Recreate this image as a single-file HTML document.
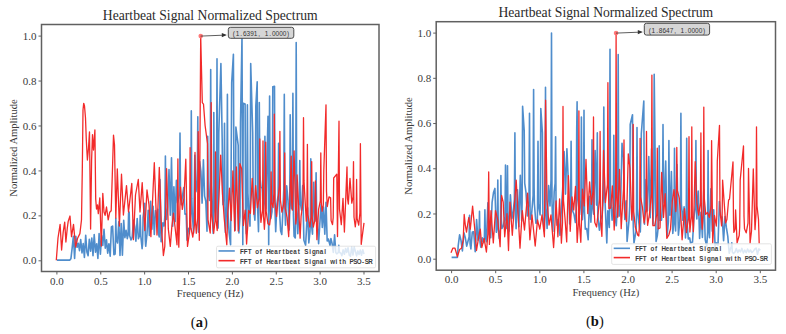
<!DOCTYPE html>
<html><head><meta charset="utf-8"><style>
html,body{margin:0;padding:0;background:#fff;}
svg{display:block;}
.tk{font-family:"Liberation Serif", serif;font-size:11px;fill:#3a3a3a;}
.ti{font-family:"Liberation Serif", serif;font-size:13.65px;fill:#2a2a2a;}
.lb{font-family:"Liberation Serif", serif;font-size:10.6px;fill:#3a3a3a;}
.cp{font-family:"Liberation Serif", serif;font-size:14.5px;fill:#111;}
.lg{font-family:"Liberation Sans", sans-serif;font-size:7.8px;font-weight:bold;fill:#3a3a3a;}
.an{font-family:"Liberation Sans", sans-serif;font-size:7.6px;fill:#333;}
</style></head>
<body><svg width="786" height="334" viewBox="0 0 786 334">
<clipPath id="clipa"><rect x="41.5" y="24.5" width="337.5" height="247.0"/></clipPath>
<g clip-path="url(#clipa)"><polyline points="56.9,260.1 69.7,260.1 70.9,258.8 72.2,247.7 73.4,236.2 74.6,258.5 75.8,236.2 77.1,247.3 78.3,243.2 79.5,250.7 80.7,239.6 82.0,252.9 83.2,243.5 84.4,257.4 85.7,235.2 86.9,251.9 88.1,255.7 89.3,239.2 90.6,251.2 91.8,238.1 93.0,255.6 94.2,234.5 95.5,252.1 96.7,243.8 97.9,258.4 99.1,233.5 100.4,254.3 101.6,235.5 102.8,245.5 104.0,229.3 105.3,248.2 106.5,239.9 107.7,253.2 108.9,243.7 110.2,256.1 111.4,227.0 112.6,226.1 113.9,254.7 115.1,254.0 115.3,248.6 115.8,218.3 116.3,239.3 117.5,243.0 118.8,221.8 120.0,255.4 121.2,223.6 122.4,255.2 123.7,220.3 124.9,237.7 126.1,230.4 127.3,238.7 128.1,234.9 128.6,213.0 129.2,212.2 129.7,235.8 131.0,239.9 132.2,237.4 133.5,220.2 134.7,226.4 135.9,241.1 137.2,218.6 138.4,238.6 139.7,235.1 140.2,215.3 140.7,232.9 140.8,236.0 142.1,248.6 142.6,243.9 143.1,217.3 144.8,203.3 145.3,239.8 145.7,246.3 147.0,234.0 148.2,210.3 149.4,235.5 150.6,201.3 151.9,229.2 153.1,206.3 154.3,234.4 155.5,210.6 156.8,217.7 157.8,209.2 158.3,232.8 159.2,236.9 159.5,228.3 160.0,179.5 161.1,241.8 162.9,222.7 164.1,226.0 164.9,215.5 165.4,156.0 165.9,210.0 166.6,219.5 167.8,207.0 169.0,169.6 170.3,215.2 171.5,157.7 172.7,226.3 173.9,186.7 175.2,221.6 176.4,180.4 177.6,202.9 178.8,198.1 179.5,188.3 180.0,133.0 180.5,194.1 181.3,204.8 182.5,195.9 183.7,187.5 185.0,214.2 186.2,214.0 187.0,240.3 188.6,228.4 189.9,229.2 190.8,211.4 191.3,110.9 191.8,198.4 192.3,213.9 193.6,232.9 194.8,155.2 196.0,191.7 197.3,180.5 197.8,116.7 198.3,215.0 198.5,232.3 199.7,161.5 200.9,171.4 202.1,203.1 203.4,159.8 204.6,196.1 205.8,201.2 207.0,231.3 207.2,217.0 207.7,136.2 208.2,190.8 209.5,200.4 210.2,180.8 210.7,69.6 211.2,185.4 211.9,205.9 213.2,233.5 213.3,215.4 213.8,112.5 214.3,203.3 215.6,219.3 216.5,195.3 217.0,58.8 217.5,202.7 218.1,228.1 218.3,213.8 218.8,133.1 220.9,63.5 222.2,140.7 222.7,195.2 223.0,204.8 224.0,192.6 224.5,123.2 225.0,216.0 225.4,232.4 226.7,206.4 226.9,189.6 227.4,94.4 227.9,211.9 229.1,232.7 230.6,244.8 231.7,82.6 233.4,54.2 233.9,175.2 234.0,196.5 235.2,230.3 235.4,214.8 235.9,127.0 238.2,145.4 238.7,219.7 238.9,232.9 240.0,216.3 240.5,122.4 242.0,36.1 242.8,244.8 243.2,103.3 245.1,104.1 245.6,214.2 246.3,233.6 246.9,214.3 247.4,104.9 247.9,193.1 248.7,208.7 250.0,226.1 250.2,201.7 250.7,63.5 252.7,133.1 253.2,197.1 253.6,208.4 254.9,220.2 255.3,203.1 255.8,106.4 257.2,81.9 257.7,209.2 258.5,231.6 258.8,212.3 259.3,102.6 259.8,174.8 261.0,187.5 262.2,188.0 263.4,211.5 264.4,200.2 264.9,136.2 265.4,197.6 265.9,208.5 268.0,116.3 268.7,244.8 269.6,96.0 270.1,200.2 270.8,218.6 272.0,211.7 272.3,192.9 272.8,86.7 274.5,86.2 275.0,209.9 275.7,231.7 276.9,204.5 278.1,195.3 278.6,143.3 279.1,198.8 279.4,208.6 280.6,230.8 281.8,234.4 283.1,205.9 283.8,189.2 284.3,94.4 284.8,205.6 285.5,225.2 286.7,185.8 288.0,200.4 289.2,230.0 289.7,212.8 290.2,114.8 290.7,194.5 291.6,208.6 292.4,191.3 292.9,93.4 293.4,214.9 294.1,236.3 295.3,237.9 295.7,208.5 296.2,42.5 296.7,205.1 297.8,233.8 299.0,205.3 299.3,198.6 299.8,160.6 300.3,202.6 301.5,210.1 302.7,185.6 303.9,240.3 305.6,245.3 306.4,230.4 307.6,207.7 308.8,242.9 310.0,231.3 310.3,220.5 310.8,158.9 311.3,222.8 312.5,234.1 313.7,182.3 314.9,221.1 315.6,213.8 316.1,172.7 316.6,213.8 317.4,221.1 318.6,243.8 319.8,223.9 321.1,204.1 322.3,227.4 323.5,207.1 324.8,234.1 326.0,202.2 327.2,241.0 328.4,239.0 330.0,245.3 330.9,238.5 332.1,243.5 333.3,252.5 334.6,234.9 335.8,252.7 337.0,253.8 338.3,252.5 338.8,245.4 339.3,251.5 339.5,252.6 340.7,253.0 341.9,255.7 343.1,249.9 344.4,254.3 345.6,248.5 346.8,252.4 348.0,247.7 349.3,255.4 350.5,256.2 351.7,247.1 353.0,255.0 354.2,247.1 355.4,251.2 356.6,255.9 357.9,250.9 359.1,254.4 360.3,250.0 361.5,255.3 362.8,249.8 364.0,254.1" fill="none" stroke="#4f8dcc" stroke-width="1.6" stroke-linejoin="round"/><polyline points="56.3,260.2 58.0,238.0 60.1,224.4 61.6,250.0 63.2,232.0 64.7,222.1 65.9,242.0 67.3,228.0 68.2,221.4 70.0,216.0 71.5,236.6 73.5,224.4 75.6,247.0 77.6,238.2 79.9,233.6 81.5,219.8 82.3,170.0 83.0,110.0 83.7,103.3 84.5,106.0 85.5,118.0 86.3,140.0 87.4,160.0 88.5,148.0 89.5,131.9 90.6,229.0 91.6,160.0 92.5,134.6 93.5,150.0 94.9,130.0 95.7,199.0 96.5,209.0 97.5,205.0 98.3,213.7 99.8,197.9 101.3,246.0 102.8,193.3 104.0,212.0 105.1,215.3 106.5,207.0 108.2,219.8 109.7,212.2 111.2,210.7 112.3,175.0 113.5,135.1 114.5,145.0 115.8,218.0 117.3,168.8 119.4,226.0 121.5,174.2 123.4,215.0 126.5,185.6 128.5,212.0 131.8,183.4 133.4,239.7 135.5,195.0 138.3,179.5 140.0,212.0 142.2,182.6 144.8,230.5 147.0,190.0 149.0,205.0 150.9,236.6 154.3,162.7 157.0,235.0 159.3,167.3 161.3,224.8 163.4,255.5 164.8,246.4 166.6,168.7 168.3,228.9 170.3,246.4 171.8,226.9 173.5,213.2 177.0,244.8 177.9,158.9 178.4,234.0 178.8,247.2 180.5,187.1 182.3,209.4 184.0,197.5 185.8,159.2 187.5,246.4 189.6,231.6 190.1,147.6 190.6,216.1 191.0,228.2 192.8,237.2 194.5,224.4 195.0,152.4 195.5,221.1 196.3,233.3 197.7,218.0 198.2,131.6 199.3,240.3 200.7,36.1 202.3,102.6 203.5,104.1 205.1,125.5 207.5,143.7 208.0,219.6 210.2,233.0 210.7,213.4 211.2,102.6 211.7,213.6 213.7,233.2 215.0,221.0 215.5,151.9 216.0,218.7 217.2,230.5 219.0,195.6 220.7,155.1 222.5,193.8 224.2,218.5 226.8,244.8 227.7,214.6 229.5,188.2 231.2,220.6 232.9,170.9 234.7,231.0 236.4,167.0 238.2,231.1 239.9,163.6 241.7,169.0 243.4,225.5 245.2,210.2 246.6,244.0 248.7,210.5 250.4,213.4 252.2,178.3 253.9,214.3 255.7,185.6 257.4,207.8 259.3,197.5 259.8,139.0 260.3,209.8 260.9,222.3 262.5,210.1 263.0,141.0 263.5,216.0 264.4,229.3 265.2,216.2 265.7,142.2 266.2,211.4 267.9,223.7 269.6,224.9 270.6,217.0 271.1,171.9 271.6,202.2 273.1,207.5 273.8,193.5 274.3,114.1 274.8,201.1 276.6,216.5 278.4,195.5 279.4,185.9 279.9,131.4 280.4,200.1 281.9,212.2 283.6,204.5 284.2,196.8 284.7,153.0 285.2,207.8 287.1,217.4 288.7,236.6 291.2,156.2 291.7,202.1 292.4,210.1 294.1,151.0 295.8,224.0 296.6,216.7 297.1,175.0 300.1,238.2 301.1,216.3 303.0,201.5 303.5,117.7 304.0,180.9 304.6,192.0 306.3,221.2 306.9,209.7 307.4,144.3 307.9,214.6 309.8,227.0 311.2,217.2 311.7,161.6 312.2,217.2 313.3,227.0 314.9,220.1 315.4,181.0 316.9,239.7 318.6,209.3 320.3,200.8 320.8,153.0 321.3,202.5 322.1,211.3 323.3,205.2 323.8,170.4 326.0,104.8 326.5,191.3 327.3,206.5 329.0,196.9 330.6,197.9 331.1,220.6 332.5,224.6 333.2,217.6 333.7,178.0 336.8,174.2 337.5,236.6 339.0,121.2 339.5,209.1 341.3,224.6 343.0,198.3 344.4,232.0 347.0,167.0 347.5,198.4 348.3,204.0 350.0,178.3 351.8,203.1 353.0,196.8 353.5,161.6 354.0,217.0 355.3,226.8 356.1,219.7 356.6,179.5 357.1,218.4 358.7,225.2 359.9,213.0 360.4,143.7 361.2,244.3 364.0,222.8" fill="none" stroke="#f22a2a" stroke-width="1.3" stroke-linejoin="round"/></g>
<rect x="41.5" y="24.5" width="337.5" height="247.0" fill="none" stroke="#606060" stroke-width="1.5"/>
<line x1="56.90" y1="271.5" x2="56.90" y2="274.5" stroke="#606060" stroke-width="1"/>
<text x="56.90" y="284.7" text-anchor="middle" class="tk">0.0</text>
<line x1="100.77" y1="271.5" x2="100.77" y2="274.5" stroke="#606060" stroke-width="1"/>
<text x="100.77" y="284.7" text-anchor="middle" class="tk">0.5</text>
<line x1="144.64" y1="271.5" x2="144.64" y2="274.5" stroke="#606060" stroke-width="1"/>
<text x="144.64" y="284.7" text-anchor="middle" class="tk">1.0</text>
<line x1="188.51" y1="271.5" x2="188.51" y2="274.5" stroke="#606060" stroke-width="1"/>
<text x="188.51" y="284.7" text-anchor="middle" class="tk">1.5</text>
<line x1="232.38" y1="271.5" x2="232.38" y2="274.5" stroke="#606060" stroke-width="1"/>
<text x="232.38" y="284.7" text-anchor="middle" class="tk">2.0</text>
<line x1="276.25" y1="271.5" x2="276.25" y2="274.5" stroke="#606060" stroke-width="1"/>
<text x="276.25" y="284.7" text-anchor="middle" class="tk">2.5</text>
<line x1="320.12" y1="271.5" x2="320.12" y2="274.5" stroke="#606060" stroke-width="1"/>
<text x="320.12" y="284.7" text-anchor="middle" class="tk">3.0</text>
<line x1="363.99" y1="271.5" x2="363.99" y2="274.5" stroke="#606060" stroke-width="1"/>
<text x="363.99" y="284.7" text-anchor="middle" class="tk">3.5</text>
<line x1="38.5" y1="260.80" x2="41.5" y2="260.80" stroke="#606060" stroke-width="1"/>
<text x="36.5" y="264.40" text-anchor="end" class="tk">0.0</text>
<line x1="38.5" y1="215.86" x2="41.5" y2="215.86" stroke="#606060" stroke-width="1"/>
<text x="36.5" y="219.46" text-anchor="end" class="tk">0.2</text>
<line x1="38.5" y1="170.92" x2="41.5" y2="170.92" stroke="#606060" stroke-width="1"/>
<text x="36.5" y="174.52" text-anchor="end" class="tk">0.4</text>
<line x1="38.5" y1="125.98" x2="41.5" y2="125.98" stroke="#606060" stroke-width="1"/>
<text x="36.5" y="129.58" text-anchor="end" class="tk">0.6</text>
<line x1="38.5" y1="81.04" x2="41.5" y2="81.04" stroke="#606060" stroke-width="1"/>
<text x="36.5" y="84.64" text-anchor="end" class="tk">0.8</text>
<line x1="38.5" y1="36.10" x2="41.5" y2="36.10" stroke="#606060" stroke-width="1"/>
<text x="36.5" y="39.70" text-anchor="end" class="tk">1.0</text>
<text x="210.25" y="19.8" text-anchor="middle" class="ti">Heartbeat Signal Normalized Spectrum</text>
<text x="210.25" y="296.7" text-anchor="middle" class="lb">Frequency (Hz)</text>
<text transform="translate(17.30,148.00) rotate(-90)" text-anchor="middle" class="lb">Normalized Amplitude</text>
<text transform="translate(199.25,326.5)" text-anchor="middle" class="cp">(<tspan font-weight="bold">a</tspan>)</text>
<rect x="216.5" y="246.2" width="159.10000000000002" height="21.600000000000023" rx="1.5" fill="rgba(255,255,255,0.8)" stroke="#dddddd" stroke-width="0.8"/>
<line x1="218.5" y1="250.95" x2="234.8" y2="250.95" stroke="#4f8dcc" stroke-width="1.6"/>
<line x1="218.5" y1="260.67" x2="234.8" y2="260.67" stroke="#f22a2a" stroke-width="1.6"/>
<text transform="scale(0.8,1)" x="302.49 307.21 311.94 321.39 326.11 335.56 340.29 345.01 349.74 354.46 359.19 363.91 368.64 373.36 382.81 387.54 392.26 396.99 401.71 406.44" y="253.95" text-anchor="middle" class="lg">FFTofHeartbeatSignal</text>
<text transform="scale(0.8,1)" x="302.49 307.21 311.94 321.39 326.11 335.56 340.29 345.01 349.74 354.46 359.19 363.91 368.64 373.36 382.81 387.54 392.26 396.99 401.71 406.44 415.89 420.61 425.34 430.06 439.51 444.24 448.96 453.69 458.41 463.14" y="263.67" text-anchor="middle" class="lg">FFTofHeartbeatSignalwithPSO-SR</text>
<circle cx="200.71" cy="36.10" r="2.3" fill="#ff6a6a" opacity="0.9"/>
<line x1="200.71" y1="36.10" x2="225.30" y2="35.10" stroke="#333" stroke-width="0.8"/>
<path d="M226.80,35.10 L221.80,32.90 L221.80,37.30 Z" fill="#333"/>
<rect x="228.3" y="27.3" width="65.50" height="11.00" rx="2.2" fill="#d6d6d6" stroke="#4a4a4a" stroke-width="1"/>
<text transform="scale(0.85,1)" x="275.18 279.44 283.69 287.95 292.21 296.47 300.73 304.99 313.51 317.76 322.02 326.28 330.54 334.80 339.06" y="35.90" text-anchor="middle" class="an">(1.6391,1.0000)</text>
<clipPath id="clipb"><rect x="436.2" y="21.7" width="339.3" height="248.5"/></clipPath>
<g clip-path="url(#clipb)"><polyline points="451.6,257.4 457.4,257.4 458.2,245.8 459.6,234.8 461.0,240.4 462.4,250.9 463.9,232.7 465.3,237.6 466.7,246.1 468.1,240.7 469.1,236.9 469.6,215.2 470.1,243.9 470.9,249.0 472.3,232.0 473.7,231.7 475.2,251.7 476.6,219.6 478.0,240.1 479.0,235.8 479.5,211.4 480.0,241.8 480.8,247.1 482.2,237.8 483.6,242.6 484.4,237.7 484.9,209.9 485.4,237.0 486.4,241.8 487.9,202.7 489.3,234.4 490.7,237.7 492.1,202.3 493.5,192.6 494.9,188.4 496.3,232.3 497.3,224.4 497.8,180.1 498.3,229.7 499.2,238.4 500.4,229.0 500.9,175.5 501.4,220.6 502.0,228.5 503.4,225.8 505.0,216.7 505.5,165.0 506.0,218.9 506.2,228.4 507.0,219.0 507.5,165.7 508.0,221.4 509.0,231.3 510.4,194.9 511.9,218.6 513.3,211.1 514.4,199.4 514.9,132.9 515.4,214.2 516.1,228.6 517.5,189.7 518.9,226.8 520.3,175.3 521.7,221.1 522.1,203.9 522.6,106.4 524.2,130.6 524.7,183.2 526.0,192.5 527.4,215.9 529.0,200.5 529.5,113.2 530.0,203.5 530.2,219.4 531.6,214.3 533.1,195.6 533.6,89.6 534.1,186.7 534.4,203.8 535.9,223.3 537.3,222.6 537.5,210.4 538.0,141.3 538.5,203.9 540.1,214.9 540.3,199.0 540.8,108.6 542.4,132.9 542.9,216.5 544.3,231.2 545.0,209.7 545.5,87.3 546.0,207.3 547.1,228.4 548.6,185.6 550.0,206.0 551.0,180.1 551.5,33.1 552.0,201.7 552.8,231.5 554.2,191.6 555.1,183.4 555.6,136.7 556.1,211.8 557.0,225.1 558.4,219.3 560.0,235.3 561.3,209.9 562.7,188.7 564.1,151.6 565.5,194.1 566.9,148.7 568.3,180.6 569.7,223.9 570.6,211.5 571.1,141.3 571.6,200.3 572.6,210.7 574.0,214.3 575.4,222.5 576.2,208.7 576.7,130.6 577.1,101.8 577.6,197.7 579.6,214.6 580.9,200.0 581.4,117.0 581.9,204.3 582.4,219.7 583.5,203.3 584.0,110.2 584.5,211.2 585.3,229.1 586.7,228.5 588.2,239.8 589.5,196.3 590.9,222.3 591.5,209.9 592.0,139.8 592.5,203.0 593.7,214.1 595.1,150.5 596.6,205.1 596.8,194.3 597.3,132.9 597.8,215.6 599.4,230.2 600.8,219.9 602.2,214.6 603.3,198.5 603.8,107.1 604.3,186.5 605.0,200.5 606.8,242.9 607.8,210.7 609.3,227.4 609.5,200.6 610.0,49.2 610.5,194.5 612.1,220.2 613.3,207.4 613.8,135.2 614.3,202.8 614.9,214.8 616.3,225.8 617.7,200.2 618.2,54.6 618.7,192.0 619.1,216.2 620.6,205.2 622.0,143.2 623.4,157.3 624.8,219.4 626.2,200.7 627.1,241.4 629.0,220.6 629.7,206.2 630.2,124.5 632.5,114.7 633.0,210.1 633.3,226.9 634.0,242.9 636.1,230.6 636.5,215.1 637.0,127.6 637.5,208.7 638.9,223.0 640.3,231.9 640.8,217.1 641.3,133.7 643.8,101.0 644.3,205.8 644.5,224.3 646.0,179.6 647.4,211.0 648.8,156.6 650.2,217.7 651.6,148.7 653.0,224.3 653.7,201.8 654.2,74.3 656.1,241.4 657.3,235.8 658.7,222.3 659.2,145.9 659.7,209.2 660.1,220.3 661.5,220.2 662.5,205.8 663.0,124.5 663.5,191.2 664.3,202.9 665.7,161.0 667.1,235.9 668.4,221.6 668.9,140.6 669.4,204.1 670.0,215.3 671.4,171.6 672.8,233.5 674.0,220.7 674.5,148.2 675.0,218.6 675.6,231.0 677.0,164.5 678.4,235.2 679.8,221.5 680.4,205.2 680.9,113.2 681.4,204.1 682.7,220.2 684.1,206.7 685.5,237.9 686.2,222.9 686.7,138.3 687.2,223.9 688.3,239.0 689.7,237.9 690.5,242.9 692.5,242.1 694.0,216.9 695.4,205.4 695.9,140.6 696.4,207.2 696.8,219.0 698.2,191.1 699.6,238.5 701.0,212.2 702.4,237.5 703.8,189.8 705.2,239.7 706.7,246.4 707.6,232.0 708.1,150.5 708.6,224.7 709.5,237.8 710.9,188.7 712.3,231.3 713.7,209.8 715.1,246.1 716.5,242.9 718.0,245.2 719.4,201.5 720.8,217.4 722.2,217.0 723.6,240.6 725.0,216.6 726.4,227.7 727.8,236.4 729.2,253.2 730.7,247.9 731.3,247.1 731.8,242.9 732.3,251.9 733.5,253.5 734.9,252.2 736.3,248.5 737.7,252.5 739.1,249.9 740.5,251.9 741.9,248.4 743.4,253.0 744.8,250.2 746.2,252.7 747.6,249.1 749.0,252.1 750.4,250.0 751.8,252.5 753.2,251.4 754.7,249.2 756.1,248.0 757.5,254.2 758.9,248.9 760.3,250.4" fill="none" stroke="#4f8dcc" stroke-width="1.6" stroke-linejoin="round"/><polyline points="451.0,252.8 452.8,248.2 455.0,248.2 457.4,256.6 459.6,249.5 461.5,248.2 463.2,240.0 464.2,214.5 465.3,225.0 466.5,232.2 468.1,221.5 468.8,217.5 470.3,229.2 472.6,206.1 474.9,230.7 476.5,250.5 478.7,236.8 480.3,229.2 481.8,247.5 484.1,238.3 486.4,252.0 487.9,233.7 488.7,171.9 489.4,244.4 491.0,210.6 493.3,242.9 495.5,210.6 497.8,219.8 500.1,246.7 501.6,195.4 503.2,202.2 504.7,236.8 507.0,213.7 508.5,250.5 510.0,202.2 512.3,235.3 516.2,180.1 520.0,248.2 522.3,210.6 524.5,230.0 527.6,193.1 529.9,239.8 532.0,215.0 535.2,246.0 537.5,220.0 539.8,229.2 542.0,215.0 544.4,236.8 545.6,100.2 547.0,200.0 549.0,225.0 551.0,215.0 553.6,247.5 554.4,234.3 556.1,200.9 557.9,236.8 559.6,198.8 561.4,243.1 562.5,222.6 563.0,106.4 563.5,200.4 564.9,217.0 566.7,241.9 568.4,175.6 570.2,231.3 572.0,196.8 573.7,210.0 575.5,186.4 577.2,242.4 578.4,222.7 578.9,110.9 579.4,222.5 580.8,242.3 582.5,189.1 584.3,205.9 586.0,159.4 587.8,213.6 589.6,181.8 591.3,204.3 593.0,191.2 593.5,117.0 594.0,206.7 594.8,222.5 596.6,227.0 598.4,210.7 599.6,198.8 600.1,131.4 600.6,220.6 601.9,236.4 603.6,150.4 605.4,202.6 607.4,184.6 607.9,82.7 608.4,189.6 608.9,208.4 610.7,208.0 612.4,185.9 614.2,230.0 615.6,200.5 616.1,33.1 616.6,189.7 617.7,217.3 619.5,169.5 621.2,228.7 623.0,197.7 623.5,189.0 624.0,139.8 624.5,209.1 626.5,221.3 628.3,153.8 630.0,168.3 631.8,220.1 632.7,205.8 633.2,124.5 633.7,211.6 635.3,227.0 637.8,235.3 638.8,236.0 639.6,221.3 640.1,138.3 640.6,196.8 642.4,207.1 644.1,223.0 646.0,209.2 646.5,131.4 647.0,211.2 647.6,225.3 649.4,214.5 651.4,193.6 651.9,75.1 652.4,203.1 652.9,225.7 654.7,225.6 656.8,214.0 657.3,148.2 657.8,216.8 658.2,228.9 660.0,228.0 661.7,172.5 663.5,217.4 665.2,193.7 666.8,238.3 668.8,235.0 670.5,229.0 672.3,201.4 674.0,189.6 675.8,211.5 676.3,201.9 676.8,147.4 677.3,190.5 679.3,198.1 681.1,221.1 682.1,239.8 684.6,208.7 686.4,232.5 688.5,218.1 689.0,136.7 689.5,217.7 689.9,232.0 691.3,216.2 691.8,126.8 692.3,215.9 693.4,231.6 695.2,161.6 696.9,203.0 698.7,215.1 700.4,202.8 700.9,132.9 701.4,214.9 702.2,229.3 703.3,211.0 703.8,107.1 704.3,198.3 705.7,214.4 707.5,212.4 709.3,217.3 711.1,205.8 711.6,140.6 712.7,242.9 714.5,215.5 716.3,226.0 716.8,216.3 717.3,161.2 719.5,125.3 720.0,210.8 721.6,225.9 722.1,219.1 722.6,180.1 725.6,222.9 726.9,219.5 728.6,200.0 729.5,199.2 733.0,161.9 733.5,221.8 733.9,232.4 735.1,229.0 735.6,209.9 737.1,242.9 739.2,235.5 739.7,227.2 740.2,180.1 743.5,145.9 744.0,216.3 744.5,228.7 746.2,232.8 748.0,223.2 748.5,168.5 750.1,242.9 751.5,231.0 753.3,169.0 755.0,229.6 756.0,214.2 756.5,126.8 757.0,205.7 758.5,219.6 759.2,243.6" fill="none" stroke="#f22a2a" stroke-width="1.3" stroke-linejoin="round"/></g>
<rect x="436.2" y="21.7" width="339.3" height="248.5" fill="none" stroke="#606060" stroke-width="1.5"/>
<line x1="451.60" y1="270.2" x2="451.60" y2="273.2" stroke="#606060" stroke-width="1"/>
<text x="451.60" y="283.4" text-anchor="middle" class="tk">0.0</text>
<line x1="495.70" y1="270.2" x2="495.70" y2="273.2" stroke="#606060" stroke-width="1"/>
<text x="495.70" y="283.4" text-anchor="middle" class="tk">0.5</text>
<line x1="539.80" y1="270.2" x2="539.80" y2="273.2" stroke="#606060" stroke-width="1"/>
<text x="539.80" y="283.4" text-anchor="middle" class="tk">1.0</text>
<line x1="583.90" y1="270.2" x2="583.90" y2="273.2" stroke="#606060" stroke-width="1"/>
<text x="583.90" y="283.4" text-anchor="middle" class="tk">1.5</text>
<line x1="628.00" y1="270.2" x2="628.00" y2="273.2" stroke="#606060" stroke-width="1"/>
<text x="628.00" y="283.4" text-anchor="middle" class="tk">2.0</text>
<line x1="672.10" y1="270.2" x2="672.10" y2="273.2" stroke="#606060" stroke-width="1"/>
<text x="672.10" y="283.4" text-anchor="middle" class="tk">2.5</text>
<line x1="716.20" y1="270.2" x2="716.20" y2="273.2" stroke="#606060" stroke-width="1"/>
<text x="716.20" y="283.4" text-anchor="middle" class="tk">3.0</text>
<line x1="760.30" y1="270.2" x2="760.30" y2="273.2" stroke="#606060" stroke-width="1"/>
<text x="760.30" y="283.4" text-anchor="middle" class="tk">3.5</text>
<line x1="433.2" y1="259.20" x2="436.2" y2="259.20" stroke="#606060" stroke-width="1"/>
<text x="431.2" y="262.80" text-anchor="end" class="tk">0.0</text>
<line x1="433.2" y1="213.98" x2="436.2" y2="213.98" stroke="#606060" stroke-width="1"/>
<text x="431.2" y="217.58" text-anchor="end" class="tk">0.2</text>
<line x1="433.2" y1="168.76" x2="436.2" y2="168.76" stroke="#606060" stroke-width="1"/>
<text x="431.2" y="172.36" text-anchor="end" class="tk">0.4</text>
<line x1="433.2" y1="123.54" x2="436.2" y2="123.54" stroke="#606060" stroke-width="1"/>
<text x="431.2" y="127.14" text-anchor="end" class="tk">0.6</text>
<line x1="433.2" y1="78.32" x2="436.2" y2="78.32" stroke="#606060" stroke-width="1"/>
<text x="431.2" y="81.92" text-anchor="end" class="tk">0.8</text>
<line x1="433.2" y1="33.10" x2="436.2" y2="33.10" stroke="#606060" stroke-width="1"/>
<text x="431.2" y="36.70" text-anchor="end" class="tk">1.0</text>
<text x="605.85" y="17.3" text-anchor="middle" class="ti">Heartbeat Signal Normalized Spectrum</text>
<text x="605.85" y="295.7" text-anchor="middle" class="lb">Frequency (Hz)</text>
<text transform="translate(412.00,145.95) rotate(-90)" text-anchor="middle" class="lb">Normalized Amplitude</text>
<text transform="translate(594.85,325.5)" text-anchor="middle" class="cp">(<tspan font-weight="bold">b</tspan>)</text>
<rect x="611.7" y="243.8" width="159.69999999999993" height="20.599999999999966" rx="1.5" fill="rgba(255,255,255,0.8)" stroke="#dddddd" stroke-width="0.8"/>
<line x1="613.7" y1="248.33" x2="630.0" y2="248.33" stroke="#4f8dcc" stroke-width="1.6"/>
<line x1="613.7" y1="257.60" x2="630.0" y2="257.60" stroke="#f22a2a" stroke-width="1.6"/>
<text transform="scale(0.8,1)" x="796.49 801.21 805.94 815.39 820.11 829.56 834.29 839.01 843.74 848.46 853.19 857.91 862.64 867.36 876.81 881.54 886.26 890.99 895.71 900.44" y="251.33" text-anchor="middle" class="lg">FFTofHeartbeatSignal</text>
<text transform="scale(0.8,1)" x="796.49 801.21 805.94 815.39 820.11 829.56 834.29 839.01 843.74 848.46 853.19 857.91 862.64 867.36 876.81 881.54 886.26 890.99 895.71 900.44 909.89 914.61 919.34 924.06 933.51 938.24 942.96 947.69 952.41 957.14" y="260.60" text-anchor="middle" class="lg">FFTofHeartbeatSignalwithPSO-SR</text>
<circle cx="616.07" cy="33.10" r="2.3" fill="#ff6a6a" opacity="0.9"/>
<line x1="616.07" y1="33.10" x2="641.30" y2="32.10" stroke="#333" stroke-width="0.8"/>
<path d="M642.80,32.10 L637.80,29.90 L637.80,34.30 Z" fill="#333"/>
<rect x="644.3" y="23.3" width="65.30" height="11.80" rx="2.2" fill="#d6d6d6" stroke="#4a4a4a" stroke-width="1"/>
<text transform="scale(0.85,1)" x="764.47 768.73 772.99 777.25 781.51 785.76 790.02 794.28 802.80 807.06 811.32 815.58 819.84 824.09 828.35" y="32.70" text-anchor="middle" class="an">(1.8647,1.0000)</text>
</svg></body></html>
